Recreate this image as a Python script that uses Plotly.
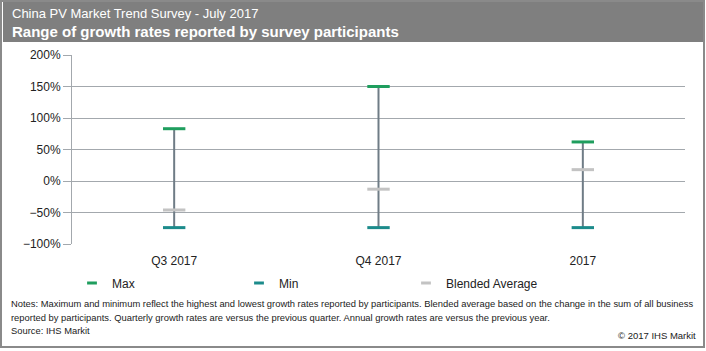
import plotly.graph_objects as go

categories = ["Q3 2017", "Q4 2017", "2017"]
max_vals = [83, 150, 62]
min_vals = [-74, -74, -74]
avg_vals = [-46, -13, 18]

W, H = 706, 351
L, R, T, B = 72, 21, 55, 107
PW, PH = W - L - R, H - T - B

def px(x):
    return (x - L) / PW

def py(y):
    return (H - B - y) / PH

FONT = "Liberation Sans, Arial"
fig = go.Figure()

# range lines
fig.add_trace(go.Scatter(
    x=categories, y=min_vals, mode="markers",
    marker=dict(size=1, color="rgba(0,0,0,0)"),
    error_y=dict(type="data", symmetric=False,
                 array=[a - b for a, b in zip(max_vals, min_vals)],
                 arrayminus=[0] * len(categories),
                 width=0, color="#6f7c86", thickness=2),
    showlegend=False, hoverinfo="skip"))

for name, vals, col in [("Max", max_vals, "#1f9e5e"),
                        ("Min", min_vals, "#1c8b8b"),
                        ("Blended Average", avg_vals, "#c3c3c3")]:
    fig.add_trace(go.Scatter(
        x=categories, y=vals, mode="markers", name=name, legendgroup=name,
        showlegend=False,
        marker=dict(symbol="line-ew", size=16, line=dict(width=3, color=col), color=col)))
    fig.add_trace(go.Scatter(
        x=[None], y=[None], mode="markers", name=name, legendgroup=name,
        marker=dict(symbol="line-ew", size=7, line=dict(width=3, color=col), color=col)))

shapes = [
    dict(type="rect", xref="paper", yref="paper", x0=px(3), x1=px(703), y0=py(42), y1=py(2),
         fillcolor="#7f7f7f", line=dict(width=0), layer="below"),
    dict(type="rect", xref="paper", yref="paper", x0=px(1), x1=px(704), y0=py(347), y1=py(1),
         line=dict(color="#8a8a8a", width=2), fillcolor="rgba(0,0,0,0)"),
]

notes = [
    "Notes: Maximum and minimum reflect the highest and lowest growth rates reported by participants. Blended average based on the change in the sum of all business",
    "reported by participants. Quarterly growth rates are versus the previous quarter. Annual growth rates are versus the previous year.",
    "Source: IHS Markit",
]
note_y = [303, 317, 330]

annotations = [
    dict(text="China PV Market Trend Survey - July 2017", xref="paper", yref="paper",
         x=px(10), y=py(14), xanchor="left", yanchor="middle", showarrow=False,
         font=dict(family="Liberation Sans, Arial", size=13, color="white")),
    dict(text="<b>Range of growth rates reported by survey participants</b>", xref="paper", yref="paper",
         x=px(10), y=py(31), xanchor="left", yanchor="middle", showarrow=False,
         font=dict(family="Liberation Sans, Arial", size=15, color="white")),
    dict(text="© 2017 IHS Markit", xref="paper", yref="paper", x=px(698), y=py(335),
         xanchor="right", yanchor="middle", showarrow=False,
         font=dict(family=FONT, size=9.5, color="#222222")),
]
for t, yy in zip(notes, note_y):
    annotations.append(dict(text=t, xref="paper", yref="paper", x=px(9), y=py(yy),
                            xanchor="left", yanchor="middle", showarrow=False,
                            font=dict(family=FONT, size=9.4, color="#222222")))

fig.update_layout(
    width=W, height=H, margin=dict(l=L, r=R, t=T, b=B),
    paper_bgcolor="white", plot_bgcolor="white",
    font=dict(family=FONT, size=12, color="#222222"),
    shapes=shapes, annotations=annotations,
    legend=dict(orientation="h", x=px(72), y=py(283), xanchor="left", yanchor="middle",
                entrywidth=122, entrywidthmode="pixels", itemwidth=30,
                font=dict(family=FONT, size=12, color="#222222"), bgcolor="rgba(0,0,0,0)"),
    xaxis=dict(range=[-0.5, 2.5], showgrid=False, showline=False, ticks="",
               ticklabelstandoff=8, tickfont=dict(size=12)),
    yaxis=dict(range=[-100, 200], dtick=50, ticksuffix="%", showgrid=True,
               gridcolor="#a3a8ad", gridwidth=1, zeroline=False,
               showline=True, linecolor="#a3a8ad", linewidth=1,
               ticks="outside", ticklen=8, tickcolor="#a3a8ad",
               tickfont=dict(size=12)),
)

fig.write_html("out.html")
